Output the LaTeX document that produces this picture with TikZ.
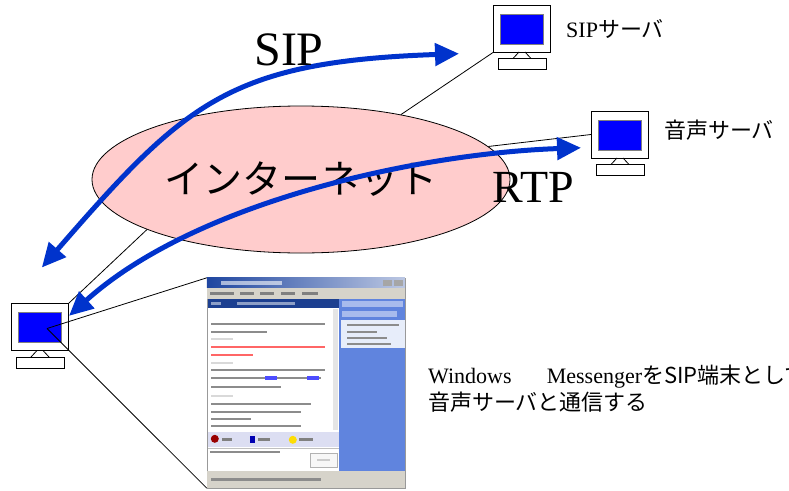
\documentclass[tikz,border=0pt]{standalone}
\usepackage{fontspec}
\setmainfont{Liberation Serif}
\newfontfamily\jp{Noto Sans CJK JP}
\usepackage{tikz}
\usetikzlibrary{positioning, arrows.meta, shapes.geometric, calc}
\usepackage{xcolor}
\definecolor{NetPink}{RGB}{255, 204, 204}
\definecolor{FlowBlue}{RGB}{0, 51, 204}
\definecolor{ScreenBlue}{RGB}{0, 0, 255}
\definecolor{XpBlue}{RGB}{31, 70, 160}
\definecolor{XpPanel}{RGB}{96, 132, 222}
\definecolor{XpGrey}{RGB}{214, 211, 202}
\definecolor{XpTool}{RGB}{220, 222, 242}

\begin{document}
\begin{tikzpicture}[x=1pt, y=-1pt, >={Triangle[length=24pt, width=22pt]},
  monitor/.style={draw, fill=white, line width=1pt, minimum width=57pt, minimum height=47pt, inner sep=0pt},
  screen/.style={draw=gray, fill=ScreenBlue, line width=1pt, minimum width=43pt, minimum height=30pt, inner sep=0pt},
  pcbase/.style={draw, fill=white, line width=1pt, minimum width=48pt, minimum height=11pt, inner sep=0pt},
  pc/.pic={
    \node[monitor] (-mon) at (0,0) {};
    \node[screen] (-scr) at (0,0.5) {};
    \node[pcbase] (-base) at (0,35.5) {};
    \draw[line width=0.8pt] (-3,23.5) -- (-9,30) (3,23.5) -- (9,30);
  },
  net/.style={ellipse, draw, fill=NetPink, line width=0.8pt, minimum width=418pt, minimum height=147pt, inner sep=0pt, font=\jp\fontsize{39}{39}\selectfont},
  wire/.style={line width=0.8pt},
  flow/.style={draw=FlowBlue, line width=5pt},
  proto/.style={anchor=base, inner sep=0pt, font=\fontsize{48}{48}\selectfont},
  lbl/.style={inner sep=0pt, font=\fontsize{22}{22}\selectfont},
  note/.style={align=left, inner sep=0pt, font=\fontsize{22}{27}\selectfont},
  shot/.style={draw=black!40, fill=XpPanel, minimum width=198pt, minimum height=210pt, inner sep=0pt}]

\useasboundingbox (0,0) rectangle (789,490);

\node[net] (net) at (301,179.5) {インターネット};

\pic (lpc) at (40,327) {pc};
\pic (sip) at (522,28.5) {pc};
\pic (voice) at (620,134.5) {pc};

\node[lbl, right=15pt of sip-mon] (siplbl) {SIP{\jp サーバ}};
\node[lbl, right=15pt of voice-mon, yshift=4pt] (voicelbl) {\jp 音声サーバ};

% links into the internet
\draw[wire] (lpc-mon.north east) -- (net.198);
\draw[wire] (sip-mon.south west) -- (net.33);
\draw[wire] (voice-mon.west) -- (net.10);

% messenger window
\node[shot] (shot) at (306,383) {};
\begin{scope}[shift={(shot.north west)}]
  \shade[left color=XpBlue, right color=XpBlue!30] (0,0) rectangle (198,10);
  \fill[white, opacity=0.6] (14,3) rectangle (75,7);
  \fill[black!35] (176,2) rectangle (185,8);
  \fill[black!35] (187,2) rectangle (196,8);
  \fill[XpGrey] (0,10) rectangle (198,21);
  \foreach \x/\w in {3/24, 33/14, 53/14, 74/14, 95/16}
    \fill[black!50] (\x,14) rectangle ++(\w,3);
  % chat pane
  \fill[white] (1,21) rectangle (132,193);
  \fill[XpBlue!90!black] (1,21) rectangle (132,30);
  \fill[white, opacity=0.5] (4,24) rectangle (14,27);
  \fill[white, opacity=0.5] (30,24) rectangle (88,27);
  \fill[black!10] (126,31) rectangle (131,152);
  \foreach \y/\w/\c in {45/114/black!45, 53/56/black!45, 68/114/red!60, 76/42/red!60,
      91/114/black!45, 99/110/black!45, 108/70/black!45, 125/100/black!45,
      133/90/black!45, 140/40/black!45, 147/90/black!45}
    \fill[\c] (4,\y) rectangle ++(\w,2.5);
  \foreach \y in {60,84,117}
    \fill[black!15] (4,\y) rectangle ++(22,2);
  \fill[blue!70] (58,98) rectangle ++(12,4);
  \fill[blue!70] (100,98) rectangle ++(12,4);
  \fill[XpTool] (1,154) rectangle (132,169);
  \fill[red!60!black] (8,161) circle (4);
  \fill[black!50] (15,160) rectangle ++(10,3);
  \fill[blue!70!black] (43,158) rectangle ++(5,7);
  \fill[black!50] (51,160) rectangle ++(12,3);
  \fill[yellow!80!orange] (86,162) circle (4);
  \fill[black!50] (92,160) rectangle ++(14,3);
  \draw[black!25] (1,170) -- (132,170);
  \fill[black!45] (3,173) rectangle ++(70,2.5);
  \draw[black!30, fill=black!3] (103,175) rectangle (130,189);
  \fill[black!20] (110,181) rectangle ++(13,2.5);
  % contact pane
  \fill[XpPanel!55!white] (135,23) rectangle (196,29);
  \fill[XpPanel!55!white] (135,33) rectangle (190,39);
  \fill[XpPanel!15!white] (134,42) rectangle (198,70);
  \foreach \y/\w in {46/52, 53/30, 59/40, 65/44}
    \fill[black!45] (140,\y) rectangle ++(\w,2.5);
  % status bar
  \fill[XpGrey] (0,193) rectangle (198,210);
  \fill[black!45] (4,200) rectangle ++(110,3);
\end{scope}

\coordinate (tap) at ($(lpc-scr.center)+(7,1)$);
\draw[wire] (tap) -- (shot.north west);
\draw[wire] (tap) -- (shot.south west);

% signalling and media paths
\draw[flow, <->, shorten <=47pt, shorten >=34pt] (lpc-mon.north west) to[out=49, in=182, looseness=1.25] (sip-mon.south west);
\draw[flow, <->, shorten >=10pt] (lpc-mon.21) to[out=42, in=182, looseness=0.8] (voice-mon.204);

\node[proto] (siptxt) at (289,65) {SIP};
\node[proto, font=\fontsize{46}{46}\selectfont] (rtptxt) at (533,202) {RTP};

\node[note, anchor=north west] (note) at (428,365)
  {Windows\hspace{1.6em}Messenger{\jp をSIP端末として}\\{\jp 音声サーバと通信する}};

\end{tikzpicture}
\end{document}
